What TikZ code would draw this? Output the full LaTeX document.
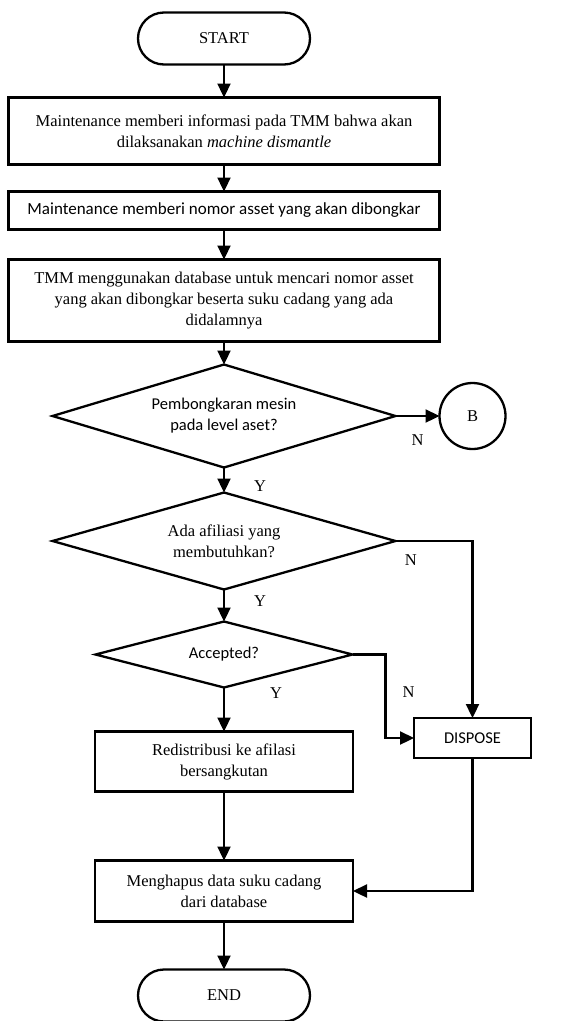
\documentclass[tikz,border=0pt]{standalone}
\usepackage{fontspec}
\setmainfont{Liberation Serif}
\newfontfamily\calibri{Carlito}
\usepackage{tikz}
\usetikzlibrary{arrows.meta,positioning,shapes.geometric}

\begin{document}
\begin{tikzpicture}[
    x=1pt, y=1pt,
    font=\fontsize{16.5}{21}\selectfont,
    line width=2.3pt,
    every node/.style={outer sep=0pt},
    box/.style={draw, rectangle, minimum width=431pt, align=center, inner sep=2pt},
    term/.style={draw, rounded corners=26pt, minimum width=172pt, minimum height=52pt},
    decision/.style={draw, diamond, aspect=3.3, inner sep=0pt, align=center},
    calib/.style={font=\calibri\fontsize{16.5}{21}\selectfont},
    arrow/.style={-{Triangle[length=14pt, width=13pt]}},
    lbl/.style={inner sep=0pt}
]
\useasboundingbox (0,0) rectangle (584,-1021);
\node[term] (start) at (224,-38.5) {START};
\node[box, minimum height=67pt, below=33pt of start] (inform) {Maintenance memberi informasi pada TMM bahwa akan\\dilaksanakan \textit{machine dismantle}};
\node[box, minimum height=38pt, below=27pt of inform, font=\calibri\fontsize{17}{20}\selectfont] (nomor) {Maintenance memberi nomor asset yang akan dibongkar};
\node[box, minimum height=82pt, below=30pt of nomor] (cari) {TMM menggunakan database untuk mencari nomor asset\\yang akan dibongkar beserta suku cadang yang ada\\didalamnya};
\node[decision, calib, minimum width=343pt, minimum height=103pt, below=23pt of cari] (level) {Pembongkaran mesin\\pada level aset?};
\node[draw, circle, minimum size=66pt, right=44pt of level] (b) {B};
\node[decision, minimum width=343pt, minimum height=97pt, below=25pt of level] (afiliasi) {Ada afiliasi yang\\membutuhkan?};
\node[decision, calib, minimum width=257pt, minimum height=66pt, below=32pt of afiliasi] (accept) {Accepted?};
\node[box, minimum width=258pt, minimum height=60pt, below=44pt of accept] (redist) {Redistribusi ke afilasi\\bersangkutan};
\node[box, minimum width=258pt, minimum height=61pt, below=69pt of redist] (hapus) {Menghapus data suku cadang\\dari database};
\node[term, below=48pt of hapus] (end) {END};
\node[box, calib, minimum width=117pt, minimum height=40pt, below=269pt of b] (dispose) {DISPOSE};
\draw[arrow] (start) -- (inform);
\draw[arrow] (inform) -- (nomor);
\draw[arrow] (nomor) -- (cari);
\draw[arrow] (cari) -- (level);
\draw[arrow] (level) -- node[lbl, below=19pt] {N} (b);
\draw[arrow] (level) -- node[lbl, near end, right=30pt] {Y} (afiliasi);
\draw[arrow] (afiliasi.east) -| node[lbl, pos=0.1, below=14pt] {N} (dispose.north);
\draw[arrow] (afiliasi) -- node[lbl, pos=0.35, right=30pt] {Y} (accept);
\draw[arrow] (accept.east) -- ++(33,0) |- node[lbl, pos=0.225, right=17pt] {N} (dispose.west);
\draw[arrow] (accept) -- node[lbl, pos=0.12, right=46pt] {Y} (redist);
\draw[arrow] (redist) -- (hapus);
\draw[arrow] (dispose.south) |- (hapus.east);
\draw[arrow] (hapus) -- (end);
\end{tikzpicture}
\end{document}
